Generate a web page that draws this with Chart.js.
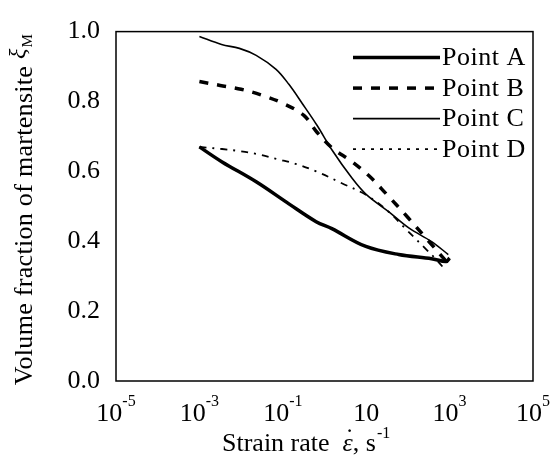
<!DOCTYPE html>
<html>
<head>
<meta charset="utf-8">
<script src="https://cdn.jsdelivr.net/npm/chart.js@4.4.1/dist/chart.umd.min.js"></script>
<style>
  html, body { margin: 0; padding: 0; background: #fff; }
  #wrap { width: 554px; height: 464px; position: relative; }
</style>
</head>
<body>
<div id="wrap"><canvas id="rateChart"></canvas></div>
<script>
// strain rate (1/s) vs volume fraction of martensite
const rateA = [1e-3, 3.5e-3, 2.3e-2, 0.14, 0.63, 1.5, 9.8, 60, 370, 830, 1000];
const fracA = [0.670, 0.627, 0.570, 0.507, 0.456, 0.436, 0.385, 0.362, 0.350, 0.342, 0.352];

const rateB = [1e-3, 3.16e-3, 1e-2, 3.16e-2, 0.1, 0.32, 0.66, 1.6, 4.3, 11.5, 30, 100, 316, 794, 1000];
const fracB = [0.857, 0.846, 0.835, 0.818, 0.795, 0.760, 0.712, 0.665, 0.630, 0.588, 0.536, 0.468, 0.400, 0.345, 0.330];

const rateC = [1e-3, 3.4e-3, 9.1e-3, 2.3e-2, 6.9e-2, 0.14, 0.29, 0.66, 1.5, 4.6, 9.8, 35, 105, 370, 930];
const fracC = [0.986, 0.963, 0.952, 0.932, 0.892, 0.849, 0.795, 0.732, 0.662, 0.580, 0.535, 0.484, 0.438, 0.399, 0.362];

const rateD = [1e-3, 3.5e-3, 9.1e-3, 2.3e-2, 8.1e-2, 0.21, 0.63, 2.6, 9.8, 32, 87, 263, 457, 832];
const fracD = [0.670, 0.664, 0.658, 0.650, 0.634, 0.621, 0.600, 0.566, 0.533, 0.488, 0.436, 0.379, 0.350, 0.315];

const seriesNames = ['Point A', 'Point B', 'Point C', 'Point D'];
const xTickValues = [1e-5, 1e-3, 1e-1, 10, 1e3, 1e5];
const xTickBase = ['10', '10', '10', '10', '10', '10'];
const xTickExp = ['-5', '-3', '-1', '', '3', '5'];
const yTickValues = [0, 0.2, 0.4, 0.6, 0.8, 1.0];

const SERIF = '"Liberation Serif", "DejaVu Serif", serif';

const toPoints = (xs, ys) => xs.map((x, i) => ({ x: x, y: ys[i] }));

const lineStyles = [
  { borderWidth: 3.5, borderDash: [] },
  { borderWidth: 3.5, borderDash: [9, 9] },
  { borderWidth: 1.6, borderDash: [] },
  { borderWidth: 1.8, borderDash: [7, 6, 2, 6] }
];
const legendDash = [[], [9, 9], [], [3, 6]];

// box around the plot area
const framePlugin = {
  id: 'frame',
  afterDraw(chart) {
    const { ctx, chartArea: a } = chart;
    ctx.save();
    ctx.strokeStyle = '#000';
    ctx.lineWidth = 1.5;
    ctx.strokeRect(a.left, a.top, a.right - a.left, a.bottom - a.top);
    ctx.restore();
  }
};

// legend inside the top right corner
const legendPlugin = {
  id: 'cornerLegend',
  afterDraw(chart) {
    const { ctx, chartArea: a } = chart;
    ctx.save();
    ctx.font = '26px ' + SERIF;
    ctx.fillStyle = '#000';
    ctx.textBaseline = 'middle';
    ctx.letterSpacing = '0.5px';
    seriesNames.forEach((name, i) => {
      const y = a.top + 26 + i * 30.5;
      ctx.beginPath();
      ctx.setLineDash(legendDash[i]);
      ctx.lineWidth = lineStyles[i].borderWidth;
      ctx.strokeStyle = '#000';
      ctx.moveTo(a.right - 180, y);
      ctx.lineTo(a.right - 93, y);
      ctx.stroke();
      ctx.fillText(name, a.right - 91, y + 1);
    });
    ctx.restore();
  }
};

// x tick labels with exponents, and both axis titles
const labelsPlugin = {
  id: 'axisText',
  afterDraw(chart) {
    const { ctx, chartArea: a } = chart;
    const xs = chart.scales.x;
    ctx.save();
    ctx.fillStyle = '#000';
    ctx.textBaseline = 'alphabetic';
    xTickValues.forEach((v, i) => {
      const px = xs.getPixelForValue(v);
      ctx.font = '26px ' + SERIF;
      const wb = ctx.measureText(xTickBase[i]).width;
      ctx.font = '16px ' + SERIF;
      const we = ctx.measureText(xTickExp[i]).width;
      const x0 = px - (wb + we) / 2;
      ctx.font = '26px ' + SERIF;
      ctx.fillText(xTickBase[i], x0, a.bottom + 40);
      ctx.font = '16px ' + SERIF;
      ctx.fillText(xTickExp[i], x0 + wb, a.bottom + 25);
    });

    // x title: Strain rate  ε̇, s^-1
    const by = a.bottom + 70;
    let x = 222;
    ctx.font = '26px ' + SERIF;
    const p1 = 'Strain rate';
    ctx.fillText(p1, x, by);
    x += ctx.measureText(p1).width + 13;
    ctx.font = 'italic 26px ' + SERIF;
    const we = ctx.measureText('\u03B5').width;
    ctx.fillText('\u03B5', x, by);
    ctx.font = '26px ' + SERIF;
    const wd = ctx.measureText('\u02D9').width;
    ctx.fillText('\u02D9', x + we / 2 - wd / 2 + 2, by - 5);
    x += we;
    ctx.fillText(', s', x, by);
    x += ctx.measureText(', s').width + 1;
    ctx.font = '16px ' + SERIF;
    ctx.fillText('-1', x, by - 13);

    // y title: Volume fraction of martensite ξ_M
    ctx.translate(32, 210);
    ctx.rotate(-Math.PI / 2);
    ctx.letterSpacing = '0.3px';
    ctx.font = '26px ' + SERIF;
    const q1 = 'Volume fraction of martensite ';
    const v1 = ctx.measureText(q1).width;
    ctx.font = 'italic 24px ' + SERIF;
    const v2 = ctx.measureText('\u03BE').width;
    ctx.font = '15px ' + SERIF;
    const v3 = ctx.measureText('M').width;
    let y = -(v1 + v2 + v3) / 2;
    ctx.font = '26px ' + SERIF;
    ctx.fillText(q1, y, 0); y += v1;
    ctx.font = 'italic 24px ' + SERIF;
    ctx.fillText('\u03BE', y, -7); y += v2 + 1;
    ctx.font = '15px ' + SERIF;
    ctx.fillText('M', y, 0);
    ctx.restore();
  }
};

const datasets = [
  toPoints(rateA, fracA),
  toPoints(rateB, fracB),
  toPoints(rateC, fracC),
  toPoints(rateD, fracD)
].map((pts, i) => ({
  label: seriesNames[i],
  data: pts,
  borderColor: '#000',
  backgroundColor: '#000',
  borderWidth: lineStyles[i].borderWidth,
  borderDash: lineStyles[i].borderDash,
  pointRadius: 0,
  tension: 0.35,
  fill: false
}));

new Chart(document.getElementById('rateChart'), {
  type: 'line',
  data: { datasets: datasets },
  options: {
    responsive: true,
    maintainAspectRatio: false,
    animation: false,
    layout: { padding: { top: 27, right: 21, bottom: 83, left: 0 } },
    plugins: { legend: { display: false }, tooltip: { enabled: false } },
    scales: {
      x: {
        type: 'logarithmic',
        min: 1e-5,
        max: 1e5,
        afterBuildTicks: (scale) => { scale.ticks = xTickValues.map(v => ({ value: v })); },
        grid: { display: false, drawTicks: false },
        border: { display: false },
        ticks: { display: false }
      },
      y: {
        min: 0,
        max: 1,
        afterBuildTicks: (scale) => { scale.ticks = yTickValues.map(v => ({ value: v })); },
        afterFit: (scale) => { scale.width = 116; },
        grid: { display: false, drawTicks: false },
        border: { display: false },
        ticks: {
          padding: 16,
          color: '#000',
          font: { family: SERIF, size: 26 },
          callback: (v) => Number(v).toFixed(1)
        }
      }
    }
  },
  plugins: [framePlugin, legendPlugin, labelsPlugin]
});
</script>
</body>
</html>
